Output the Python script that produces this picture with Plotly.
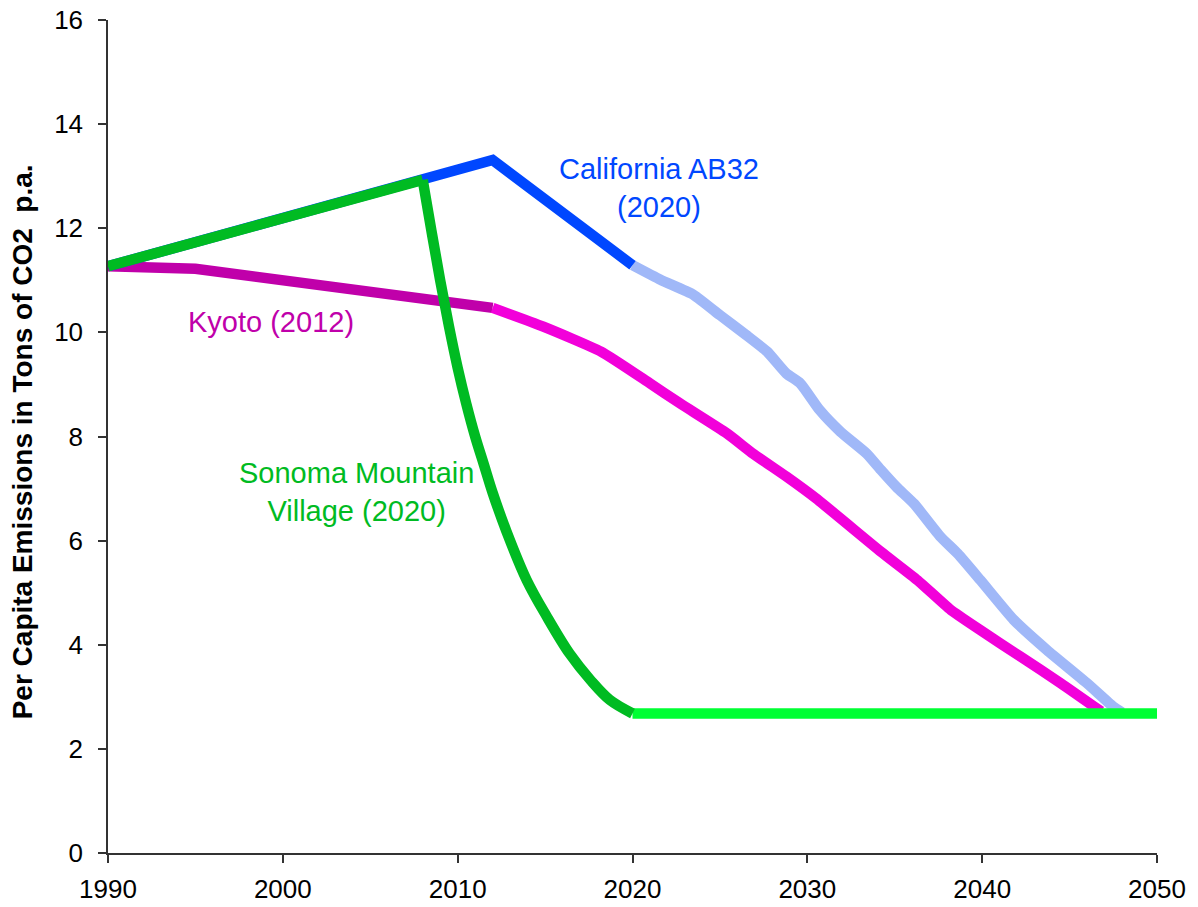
import plotly.graph_objects as go

# ---- data ----
ca_dark_years = [1990, 2012, 2020]
ca_dark = [11.27, 13.31, 11.29]

ca_light_years = [2020, 2021.6, 2023.5, 2025.0, 2026.5, 2027.7, 2028.8, 2029.6, 2030.7,
                  2031.9, 2033.4, 2034.2, 2035.1, 2036.1, 2037.6, 2038.6, 2039.9,
                  2041.8, 2043.7, 2046.0, 2047.5, 2048.0]
ca_light = [11.29, 11.01, 10.72, 10.33, 9.95, 9.63, 9.21, 9.02, 8.51,
            8.09, 7.67, 7.36, 7.03, 6.71, 6.08, 5.75, 5.24,
            4.48, 3.90, 3.26, 2.81, 2.70]

kyoto_dark_years = [1990, 1995, 2012]
kyoto_dark = [11.27, 11.22, 10.47]

kyoto_light_years = [2012, 2014.9, 2018.2, 2021.0, 2022.7, 2025.4, 2026.9, 2028.8,
                     2030.5, 2034.2, 2036.3, 2038.2, 2039.9, 2042.2, 2044.5, 2046.8]
kyoto_light = [10.47, 10.11, 9.63, 9.02, 8.64, 8.06, 7.67, 7.23,
               6.81, 5.79, 5.24, 4.67, 4.28, 3.77, 3.26, 2.72]

smv_rise_years = [1990, 2008.0]
smv_rise = [11.27, 12.93]

smv_fall_years = [2008.0, 2008.5, 2009.0, 2009.5, 2010.0, 2010.5, 2011.0, 2011.5,
                  2012.0, 2012.8, 2013.95, 2015.1, 2016.4, 2017.6, 2018.7, 2020.0]
smv_fall = [12.93, 11.95, 11.00, 10.12, 9.32, 8.62, 8.00, 7.46,
            6.92, 6.17, 5.24, 4.54, 3.83, 3.32, 2.94, 2.68]

smv_light_years = [2020, 2050]
smv_light = [2.68, 2.68]

x_ticks = [1990, 2000, 2010, 2020, 2030, 2040, 2050]
y_ticks = [0, 2, 4, 6, 8, 10, 12, 14, 16]

# ---- colours ----
C_BLUE = "#0047FF"
C_BLUE_L = "#A0B8F8"
C_MAG_D = "#C000AA"
C_MAG_L = "#F200DA"
C_GRN_D = "#00BB22"
C_GRN_L = "#00FF33"

LW = 10.5
FONT = "Liberation Sans, Arial, sans-serif"

fig = go.Figure()

def add(xs, ys, color, shape="linear", smoothing=None):
    line = dict(color=color, width=LW, shape=shape)
    if smoothing is not None:
        line["smoothing"] = smoothing
    fig.add_trace(go.Scatter(x=xs, y=ys, mode="lines", line=line,
                             showlegend=False, hoverinfo="skip"))

add(kyoto_dark_years, kyoto_dark, C_MAG_D)
add(kyoto_light_years, kyoto_light, C_MAG_L, "spline", 0.5)
add(ca_light_years, ca_light, C_BLUE_L, "spline", 0.5)
add(ca_dark_years, ca_dark, C_BLUE)
add(smv_light_years, smv_light, C_GRN_L)
add(smv_rise_years, smv_rise, C_GRN_D)
add(smv_fall_years, smv_fall, C_GRN_D, "spline", 1.0)

ann_font = 29
fig.add_annotation(x=2021.5, y=12.77, text="California AB32<br>(2020)",
                   showarrow=False, font=dict(family=FONT, size=ann_font, color=C_BLUE),
                   align="center", xanchor="center", yanchor="middle")
fig.add_annotation(x=1999.3, y=10.2, text="Kyoto (2012)",
                   showarrow=False, font=dict(family=FONT, size=ann_font, color=C_MAG_D),
                   xanchor="center", yanchor="middle")
fig.add_annotation(x=2004.2, y=6.94, text="Sonoma Mountain<br>Village (2020)",
                   showarrow=False, font=dict(family=FONT, size=ann_font, color=C_GRN_D),
                   align="center", xanchor="center", yanchor="middle")

# y-axis title as rotated annotation
fig.add_annotation(x=0, xref="paper", xshift=-86, y=0.493, yref="paper",
                   text="Per Capita Emissions in Tons of CO2\u00a0\u00a0p.a.",
                   textangle=-90, showarrow=False,
                   font=dict(family=FONT, size=28, color="#000000", weight="bold"),
                   xanchor="center", yanchor="middle")

axis_common = dict(showgrid=False, zeroline=False, showline=True, automargin=False,
                   linecolor="#333333", linewidth=1.5, ticklabeloverflow="allow",
                   ticks="outside", ticklen=8, tickwidth=1.5, tickcolor="#333333",
                   tickfont=dict(family=FONT, size=26, color="#000000"))

fig.update_layout(
    width=1198, height=907,
    margin=dict(l=108, r=41, t=20, b=54),
    paper_bgcolor="white", plot_bgcolor="white",
    xaxis=dict(range=[1990, 2050], tickvals=x_ticks,
               ticktext=[str(v) for v in x_ticks], ticklabelstandoff=4,
               **axis_common),
    yaxis=dict(range=[0, 16], tickvals=y_ticks,
               ticktext=[str(v) for v in y_ticks], ticklabelstandoff=10,
               **axis_common),
)

fig.write_html("out.html",
               config={"displayModeBar": False},
               post_script="document.body.style.margin='0';document.body.style.overflow='hidden';")
